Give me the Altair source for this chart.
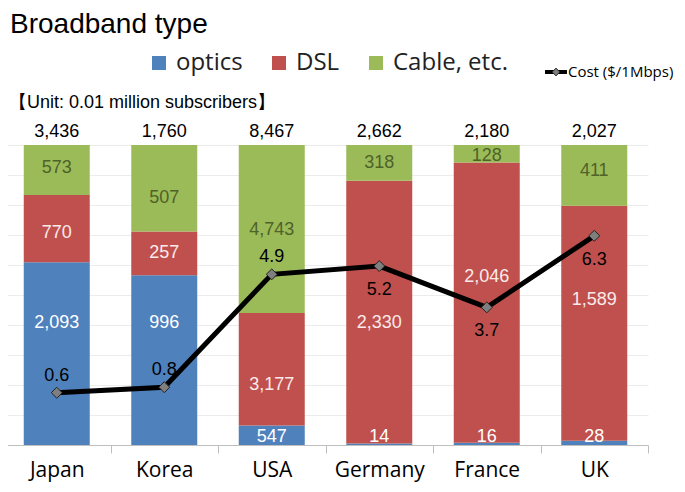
import altair as alt
import pandas as pd

# ---------------- data ----------------
countries = ["Japan", "Korea", "USA", "Germany", "France", "UK"]
series = ["optics", "DSL", "Cable, etc."]
optics = [2093, 996, 547, 14, 16, 28]
dsl = [770, 257, 3177, 2330, 2046, 1589]
cable = [573, 507, 4743, 318, 128, 411]
totals = [3436, 1760, 8467, 2662, 2180, 2027]
cost = [0.6, 0.8, 4.9, 5.2, 3.7, 6.3]
cost_label_side = ["above", "above", "above", "below", "below", "below"]
# where each segment's value label sits, as a share of the bar height (0-1)
optics_label_at = [0.407, 0.407, 0.027, 0.027, 0.027, 0.027]
dsl_label_at = [0.707, 0.64, 0.20, 0.407, 0.56, 0.483]
cable_label_at = [0.923, 0.823, 0.717, 0.94, 0.965, 0.913]

colors = {"optics": "#4f81bd", "DSL": "#c0504d", "Cable, etc.": "#9bbb59"}
label_colors = {"optics": "#ffffff", "DSL": "#fbeaea", "Cable, etc.": "#4f6228"}

rows = []
for i, c in enumerate(countries):
    for k, (s, vals, pos) in enumerate(zip(series, [optics, dsl, cable],
                                           [optics_label_at, dsl_label_at, cable_label_at])):
        rows.append({"country": c, "series": s, "value": vals[i], "order": k, "label_at": pos[i]})
bars_df = pd.DataFrame(rows)
tot_df = pd.DataFrame({"country": countries, "total": totals, "top": [1.0] * len(countries)})
cost_df = pd.DataFrame({"country": countries, "cost": cost, "side": cost_label_side})
one = pd.DataFrame({"t": [""]})

FONT_NUM = "Liberation Sans"
FONT_TXT = "Open Sans"

x_enc = alt.X(
    "country:N", sort=countries,
    scale=alt.Scale(range=[-5, 640], paddingInner=0, paddingOuter=0),
    axis=alt.Axis(title=None, labelFont=FONT_TXT, labelFontSize=21, labelColor="black",
                  labelAngle=0, domainColor="#bfbfbf", tickColor="#bfbfbf", tickSize=8,
                  tickBand="extent", labelPadding=6),
)
unit = alt.Scale(domain=[0, 1])

bars = alt.Chart(bars_df).mark_bar(width=66).encode(
    x=x_enc,
    y=alt.Y("value:Q", stack="normalize", scale=unit,
            axis=alt.Axis(values=[i / 10 for i in range(11)], grid=True, gridColor="#ececec",
                          labels=False, ticks=False, domain=False, title=None)),
    color=alt.Color("series:N", scale=alt.Scale(domain=series, range=[colors[s] for s in series]),
                    legend=alt.Legend(orient="none", legendX=139, legendY=-94, direction="horizontal",
                                      title=None, labelFont=FONT_TXT, labelFontSize=24,
                                      labelColor="#222222", symbolType="square", symbolSize=196,
                                      symbolStrokeWidth=0, labelOffset=5, columnPadding=24,
                                      padding=0)),
    order=alt.Order("order:Q"),
)

seg_layers = []
for s in series:
    seg_layers.append(
        alt.Chart(bars_df).transform_filter(alt.datum.series == s)
        .mark_text(font=FONT_NUM, fontSize=18, color=label_colors[s])
        .encode(x=x_enc,
                y=alt.Y("label_at:Q", scale=unit, axis=None, stack=None),
                text=alt.Text("value:Q", format=","))
    )

tot_text = alt.Chart(tot_df).mark_text(font=FONT_NUM, fontSize=18, color="black", dy=-13).encode(
    x=x_enc, y=alt.Y("top:Q", scale=unit, axis=None), text=alt.Text("total:Q", format=","))

cscale = alt.Scale(domain=[-1.3, 9.6])
line = alt.Chart(cost_df).mark_line(color="black", strokeWidth=5).encode(
    x=x_enc, y=alt.Y("cost:Q", scale=cscale, axis=None))
pts = alt.Chart(cost_df).mark_point(shape="diamond", filled=True, size=120, fill="#7f7f7f",
                                    stroke="#222222", strokeWidth=1, opacity=1).encode(
    x=x_enc, y=alt.Y("cost:Q", scale=cscale, axis=None))
cost_above = alt.Chart(cost_df).transform_filter(alt.datum.side == "above").mark_text(
    font=FONT_NUM, fontSize=18, color="black", dy=-17).encode(
    x=x_enc, y=alt.Y("cost:Q", scale=cscale, axis=None), text=alt.Text("cost:Q", format=".1f"))
cost_below = alt.Chart(cost_df).transform_filter(alt.datum.side == "below").mark_text(
    font=FONT_NUM, fontSize=18, color="black", dy=24).encode(
    x=x_enc, y=alt.Y("cost:Q", scale=cscale, axis=None), text=alt.Text("cost:Q", format=".1f"))

# ------------- annotations -------------
title = alt.Chart(pd.DataFrame({"t": ["Broadband type"]})).mark_text(
    font=FONT_NUM, fontSize=28, align="left", baseline="middle", color="black").encode(
    x=alt.value(2), y=alt.value(-120), text="t:N")
unit_txt = alt.Chart(pd.DataFrame({"t": ["【Unit: 0.01 million subscribers】"]})).mark_text(
    font=FONT_NUM, fontSize=18, align="left", baseline="middle", color="black").encode(
    x=alt.value(1), y=alt.value(-42), text="t:N")
leg_rule = alt.Chart(one).mark_rule(color="black", strokeWidth=4).encode(
    x=alt.value(537), x2=alt.value(559), y=alt.value(-73))
leg_pt = alt.Chart(one).mark_point(shape="diamond", filled=True, size=60, fill="#7f7f7f",
                                   stroke="#222222", strokeWidth=1, opacity=1).encode(
    x=alt.value(548), y=alt.value(-73))
leg_txt = alt.Chart(pd.DataFrame({"t": ["Cost ($/1Mbps)"]})).mark_text(
    font=FONT_TXT, fontSize=15, align="left", baseline="middle", color="black").encode(
    x=alt.value(560), y=alt.value(-73), text="t:N")

chart = alt.layer(
    bars, *seg_layers, tot_text, line, pts, cost_above, cost_below,
    title, unit_txt, leg_rule, leg_pt, leg_txt,
).resolve_scale(y="independent").properties(
    width=640, height=300,
    padding={"left": 0, "top": 137, "right": 29, "bottom": 38},
    autosize=alt.AutoSizeParams(type="none"),
).configure_view(stroke=None)

chart.save("out.html", embed_options={"renderer": "svg", "actions": False})
